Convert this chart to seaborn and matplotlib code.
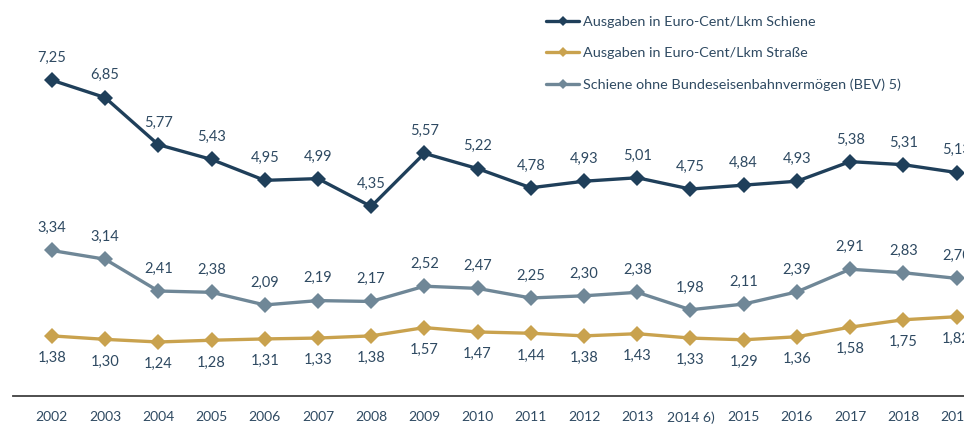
import matplotlib
matplotlib.use("Agg")
import matplotlib.pyplot as plt
import seaborn as sns
import pandas as pd

years = ["2002", "2003", "2004", "2005", "2006", "2007", "2008", "2009", "2010",
         "2011", "2012", "2013", "2014 6)", "2015", "2016", "2017", "2018", "2019"]
schiene = [7.25, 6.85, 5.77, 5.43, 4.95, 4.99, 4.35, 5.57, 5.22, 4.78, 4.93, 5.01,
           4.75, 4.84, 4.93, 5.38, 5.31, 5.13]
strasse = [1.38, 1.30, 1.24, 1.28, 1.31, 1.33, 1.38, 1.57, 1.47, 1.44, 1.38, 1.43,
           1.33, 1.29, 1.36, 1.58, 1.75, 1.82]
bev = [3.34, 3.14, 2.41, 2.38, 2.09, 2.19, 2.17, 2.52, 2.47, 2.25, 2.30, 2.38,
       1.98, 2.11, 2.39, 2.91, 2.83, 2.70]
series_names = ["Ausgaben in Euro-Cent/Lkm Schiene",
                "Ausgaben in Euro-Cent/Lkm Straße",
                "Schiene ohne Bundeseisenbahnvermögen (BEV) 5)"]
colors = ["#1f3f5a", "#c9a24e", "#6f8797"]
label_offsets = [16, -16, 16]

sns.set_theme(style="white")
plt.rcParams["font.family"] = ["Lato", "DejaVu Sans"]
text_color = "#2f4a62"

fig = plt.figure(figsize=(9.64, 4.25), dpi=100)
ax = fig.add_axes([13 / 964, 29 / 425, 1 - 13 / 964, 1 - 29 / 425])

x = list(range(len(years)))
for name, vals, col, off in zip(series_names, [schiene, strasse, bev], colors, label_offsets):
    df = pd.DataFrame({"x": x, "y": vals})
    sns.lineplot(data=df, x="x", y="y", ax=ax, color=col, linewidth=2.4,
                 marker="D", markersize=8, markeredgewidth=0, label=name)
    for xi, v in zip(x, vals):
        ax.annotate(f"{v:.2f}".replace(".", ","), (xi, v), xytext=(0, off),
                    textcoords="offset points", ha="center", va="center",
                    fontsize=10.5, color=text_color)

ax.set_xlim(-0.73, 17.14)
ax.set_ylim(0, 9.09)
ax.set_xticks(x)
ax.set_xticklabels(years, fontsize=10, color=text_color)
ax.set_yticks([])
ax.set_xlabel("")
ax.set_ylabel("")
ax.tick_params(axis="x", length=0, pad=11)
for s in ["top", "right", "left"]:
    ax.spines[s].set_visible(False)
ax.spines["bottom"].set_color("#404040")
ax.spines["bottom"].set_linewidth(1.3)

leg = ax.legend(loc="upper left", bbox_to_anchor=(546 / 964, 1 - 16 / 425),
                bbox_transform=fig.transFigure, frameon=False, fontsize=10.4,
                handlelength=2.3, handletextpad=0.25, labelspacing=1.32,
                borderpad=0, borderaxespad=0, markerscale=0.6)
for t in leg.get_texts():
    t.set_color(text_color)

fig.savefig("out.png", dpi=100)
